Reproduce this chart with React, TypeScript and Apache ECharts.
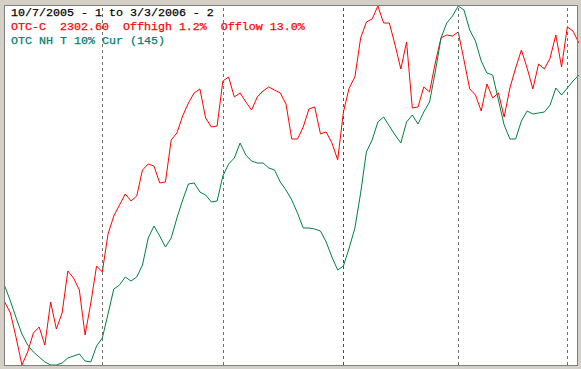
import React, { useEffect, useRef } from "react";
import * as echarts from "echarts";

// Trading days, 10/7/2005 .. 3/3/2006
const octDays = [7, 10, 11, 12, 13, 14, 17, 18, 19, 20, 21, 24, 25, 26, 27, 28, 31];
const novDays = [1, 2, 3, 4, 7, 8, 9, 10, 11, 14, 15, 16, 17, 18, 21, 22, 23, 25, 28, 29, 30];
const decDays = [1, 2, 5, 6, 7, 8, 9, 12, 13, 14, 15, 16, 19, 20, 21, 22, 23, 27, 28, 29, 30];
const janDays = [3, 4, 5, 6, 9, 10, 11, 12, 13, 17, 18, 19, 20, 23, 24, 25, 26, 27, 30, 31];
const febDays = [1, 2, 3, 6, 7, 8, 9, 10, 13, 14, 15, 16, 17, 21, 22, 23, 24, 27, 28];
const marDays = [1, 2, 3];

const categories: string[] = [
  ...octDays.map((d) => `10/${d}/2005`),
  ...novDays.map((d) => `11/${d}/2005`),
  ...decDays.map((d) => `12/${d}/2005`),
  ...janDays.map((d) => `1/${d}/2006`),
  ...febDays.map((d) => `2/${d}/2006`),
  ...marDays.map((d) => `3/${d}/2006`),
];

// Month boundaries (dashed lines); year boundary drawn in red
const monthStarts = ["11/1/2005", "12/1/2005", "2/1/2006", "3/1/2006"];
const yearStart = "1/3/2006";

// OTC-C (Nasdaq Composite) closes
const otcC = [
  2089.5, 2080.5, 2059.9, 2037.7, 2048.4, 2064.0, 2068.9, 2054.1, 2089.5, 2067.3,
  2080.5, 2115.0, 2109.2, 2099.4, 2062.4, 2088.7, 2119.1, 2114.2, 2145.4, 2160.2,
  2169.3, 2178.3, 2172.6, 2176.7, 2198.0, 2203.0, 2201.3, 2187.4, 2188.2, 2222.7,
  2228.5, 2242.5, 2253.1, 2261.4, 2264.7, 2240.8, 2233.4, 2234.2, 2271.2, 2274.5,
  2258.1, 2261.4, 2254.0, 2247.4, 2258.1, 2263.0, 2266.3, 2263.8, 2261.4, 2252.3,
  2223.5, 2223.5, 2233.4, 2248.2, 2249.9, 2227.7, 2229.3, 2220.3, 2206.3, 2245.7,
  2265.5, 2274.5, 2306.6, 2319.7, 2322.2, 2332.9, 2318.9, 2318.9, 2300.8, 2281.1,
  2303.3, 2249.0, 2249.9, 2266.3, 2262.2, 2286.0, 2306.6, 2309.1, 2308.2, 2311.5,
  2288.5, 2264.7, 2259.7, 2246.6, 2268.8, 2257.3, 2261.4, 2241.6, 2265.5, 2281.9,
  2296.7, 2281.9, 2264.7, 2285.2, 2281.1, 2290.1, 2309.1, 2282.7, 2315.6, 2312.3,
  2302.6,
];

// OTC new highs, 10% trend
const otcNH = [
  39.5, 32, 23.5, 15.5, 10, 6.5, 4, 1.5, 0, 0,
  1, 3.5, 4.5, 5.5, 2, 1.5, 9.5, 13.5, 25.5, 38,
  40, 44, 42, 44, 50, 63.5, 69.5, 64.5, 59, 63.5,
  73.5, 82.5, 90.5, 91, 86.5, 85, 81.5, 82, 94.5, 100.5,
  103.5, 111, 105, 102, 101, 101, 98.5, 97.5, 91.5, 87.5,
  82.5, 76, 68.5, 68.5, 68, 67, 61.5, 54, 47.5, 49.5,
  58.5, 68.5, 86, 106.5, 112.5, 121.5, 124, 119.5, 115, 111,
  121.5, 125, 120.5, 126.5, 131.5, 146.5, 163.5, 171, 174.5, 179.5,
  177.5, 167.5, 162, 152, 146, 145, 132.5, 120, 113, 113,
  122, 127, 125.5, 126, 126.5, 130, 138.5, 135, 138.5, 142,
  145,
];

const headerLines = [
  { text: "10/7/2005 - 1 to 3/3/2006 - 2", color: "#000000" },
  { text: "OTC-C  2302.60  Offhigh 1.2%  Offlow 13.0%", color: "#ff0000" },
  { text: "OTC NH T 10% Cur (145)", color: "#008070" },
];

export default function App() {
  const ref = useRef<HTMLDivElement>(null);

  useEffect(() => {
    document.body.style.margin = "0";
    if (!ref.current) return;
    const chart = echarts.init(ref.current, undefined, { renderer: "svg" });

    chart.setOption({
      animation: false,
      backgroundColor: "#d4d0c8",
      grid: { left: 4.7, right: 2.2, top: 6, bottom: 4 },
      xAxis: {
        type: "category",
        data: categories,
        boundaryGap: false,
        show: false,
      },
      yAxis: [
        { type: "value", min: 2037.7, max: 2332.9, show: false, splitLine: { show: false } },
        { type: "value", min: 0, max: 179.5, show: false, splitLine: { show: false } },
      ],
      graphic: [
        {
          type: "rect",
          z: -10,
          shape: { x: 4.5, y: 5.5, width: 573, height: 360 },
          style: { fill: "#ffffff", stroke: "#808080", lineWidth: 1 },
          silent: true,
        },
        ...headerLines.map((l, i) => ({
          type: "text",
          z: 100,
          x: 11,
          y: 13 + i * 14,
          style: {
            text: l.text,
            fill: l.color,
            fontSize: 11.67,
            fontFamily: "Liberation Mono",
            verticalAlign: "middle",
            stroke: l.color,
            lineWidth: 0.25,
          },
          silent: true,
        })),
        {
          type: "rect",
          z: 90,
          shape: { x: 4.5, y: 5.5, width: 573, height: 360 },
          style: { fill: "none", stroke: "#808080", lineWidth: 1 },
          silent: true,
        },
      ],
      series: [
        {
          type: "line",
          name: "OTC-C",
          data: otcC,
          yAxisIndex: 0,
          showSymbol: false,
          symbol: "none",
          lineStyle: { color: "#ff0000", width: 1 },
          silent: true,
          markLine: {
            silent: true,
            symbol: "none",
            label: { show: false },
            lineStyle: { color: "#6e6e6e", type: [3, 3], width: 1 },
            data: monthStarts.map((d) => ({ xAxis: d })),
          },
        },
        {
          type: "line",
          name: "OTC NH T 10%",
          data: otcNH,
          yAxisIndex: 1,
          showSymbol: false,
          symbol: "none",
          lineStyle: { color: "#008040", width: 1 },
          silent: true,
          markLine: {
            silent: true,
            symbol: "none",
            label: { show: false },
            lineStyle: { color: "#ff0000", type: [3, 3], width: 1 },
            data: [{ xAxis: yearStart }],
          },
        },
      ],
    });

    return () => chart.dispose();
  }, []);

  return (
    <div
      ref={ref}
      style={{ position: "fixed", left: 0, top: 0, width: 581, height: 369, background: "#d4d0c8" }}
    />
  );
}
